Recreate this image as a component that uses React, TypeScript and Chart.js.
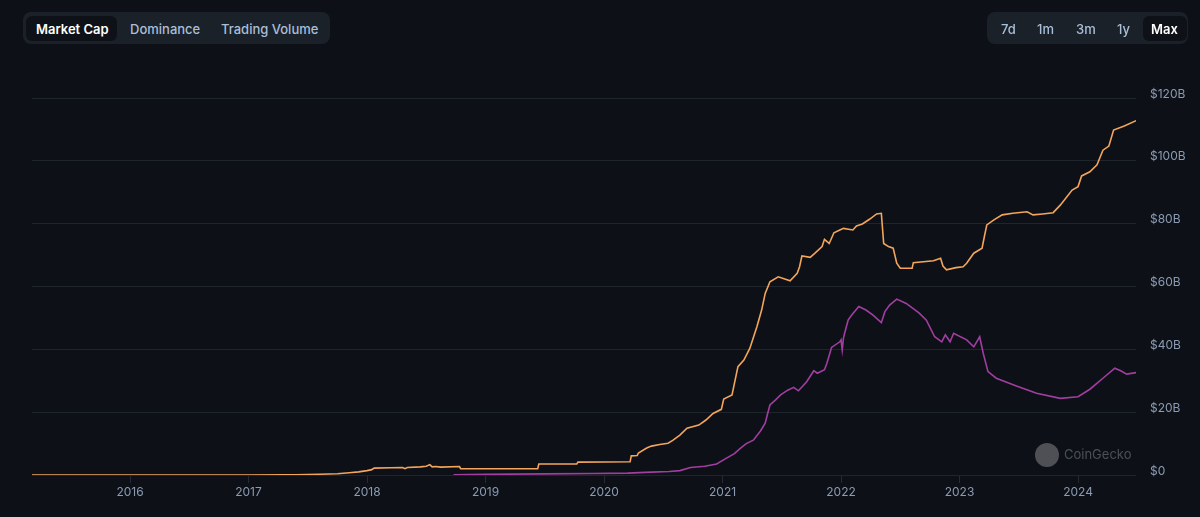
import React, { useEffect, useRef } from "react";
import { Chart, registerables } from "chart.js";

Chart.register(...registerables);

// Orange series (market cap, $B)
const orangeYears = [
  2015.17, 2016.0, 2017.0, 2017.3, 2017.4, 2017.6, 2017.75, 2017.85, 2017.93, 2018.0,
  2018.04, 2018.06, 2018.2, 2018.3, 2018.32, 2018.34, 2018.45, 2018.5, 2018.53, 2018.55,
  2018.58, 2018.62, 2018.78, 2018.79, 2019.44, 2019.45, 2019.77, 2019.78, 2020.22, 2020.23,
  2020.28, 2020.29, 2020.36, 2020.4, 2020.47, 2020.54, 2020.58, 2020.64, 2020.7, 2020.8,
  2020.86, 2020.92, 2020.99, 2021.01, 2021.08, 2021.13, 2021.18, 2021.23, 2021.29, 2021.33,
  2021.36, 2021.4, 2021.47, 2021.57, 2021.63, 2021.65, 2021.67, 2021.74, 2021.78, 2021.84,
  2021.86, 2021.9, 2021.94, 2021.99, 2022.02, 2022.1, 2022.13, 2022.18, 2022.24, 2022.3,
  2022.34, 2022.36, 2022.4, 2022.44, 2022.47, 2022.5, 2022.6, 2022.61, 2022.78, 2022.84,
  2022.86, 2022.89, 2022.97, 2023.03, 2023.06, 2023.12, 2023.19, 2023.21, 2023.23, 2023.29,
  2023.36, 2023.45, 2023.57, 2023.62, 2023.7, 2023.79, 2023.85, 2023.95, 2024.0, 2024.03,
  2024.1, 2024.16, 2024.21, 2024.26, 2024.3, 2024.39, 2024.49,
];
const orangeValues = [
  0.0, 0.0, 0.01, 0.05, 0.1, 0.25, 0.4, 0.7, 1.0, 1.4,
  1.7, 2.2, 2.3, 2.4, 2.0, 2.4, 2.6, 2.8, 3.3, 2.6,
  2.7, 2.5, 2.7, 2.0, 2.0, 3.5, 3.5, 4.1, 4.2, 6.1,
  6.2, 7.0, 8.6, 9.2, 9.7, 10.1, 11.0, 12.7, 14.9, 15.9,
  17.5, 19.6, 20.9, 24.2, 25.5, 34.5, 36.6, 40.3, 47.2, 52.5,
  57.8, 61.5, 63.1, 61.8, 64.2, 66.3, 69.7, 69.3, 70.6, 72.7,
  75.0, 73.7, 77.1, 78.0, 78.5, 78.0, 79.3, 79.9, 81.4, 83.1,
  83.3, 73.7, 72.7, 72.2, 67.4, 65.8, 65.8, 67.6, 68.2, 69.0,
  66.5, 65.3, 66.0, 66.3, 67.4, 70.6, 72.2, 76.0, 79.6, 81.2,
  82.8, 83.3, 83.8, 82.8, 83.1, 83.5, 85.9, 90.7, 91.8, 95.2,
  96.5, 98.7, 103.4, 104.7, 109.8, 111.1, 112.8,
];

// Purple series (market cap, $B)
const purpleYears = [
  2018.73, 2019.0, 2019.5, 2019.9, 2020.2, 2020.4, 2020.55, 2020.64, 2020.73, 2020.85,
  2020.95, 2021.03, 2021.1, 2021.15, 2021.2, 2021.26, 2021.32, 2021.36, 2021.38, 2021.4,
  2021.45, 2021.49, 2021.55, 2021.6, 2021.64, 2021.67, 2021.71, 2021.77, 2021.8, 2021.86,
  2021.88, 2021.92, 2021.99, 2022.0, 2022.01, 2022.02, 2022.03, 2022.06, 2022.09, 2022.15,
  2022.21, 2022.27, 2022.34, 2022.37, 2022.41, 2022.47, 2022.55, 2022.66, 2022.72, 2022.79,
  2022.85, 2022.88, 2022.92, 2022.95, 2023.06, 2023.12, 2023.17, 2023.2, 2023.24, 2023.31,
  2023.48, 2023.65, 2023.85, 2024.0, 2024.1, 2024.21, 2024.31, 2024.36, 2024.41, 2024.49,
];
const purpleValues = [
  0.05, 0.2, 0.35, 0.5, 0.6, 0.9, 1.1, 1.4, 2.4, 2.8,
  3.5, 5.3, 6.8, 8.5, 10.0, 11.1, 14.0, 16.5, 19.5, 22.3,
  24.0, 25.5, 27.0, 27.9, 26.8, 28.0, 29.7, 33.2, 32.4, 33.5,
  35.5, 40.6, 42.4, 43.0, 39.8, 43.5, 45.1, 49.3, 50.9, 53.6,
  52.5, 50.9, 48.5, 52.0, 54.1, 56.0, 54.6, 51.5, 49.3, 44.0,
  42.4, 44.6, 42.4, 45.1, 43.0, 40.8, 44.0, 38.7, 32.9, 30.8,
  28.3, 26.0, 24.4, 24.9, 27.3, 30.8, 34.0, 33.2, 32.1, 32.6,
];

const yearTicks = [2016, 2017, 2018, 2019, 2020, 2021, 2022, 2023, 2024];
const valueTicks = [0, 20, 40, 60, 80, 100, 120];
const xMin = 2015.173;
const xMax = 2024.489;

const leftTabs = ["Market Cap", "Dominance", "Trading Volume"];
const rightTabs = ["7d", "1m", "3m", "1y", "Max"];

const FONT = "Inter, 'Noto Sans', sans-serif";

function toPoints(xs: number[], ys: number[]) {
  return xs.map((x, i) => ({ x, y: ys[i] }));
}

function ChartCanvas() {
  const ref = useRef<HTMLCanvasElement | null>(null);
  useEffect(() => {
    if (!ref.current) return;
    const chart = new Chart(ref.current, {
      type: "line",
      data: {
        datasets: [
          {
            data: toPoints(orangeYears, orangeValues),
            borderColor: "#f3a55b",
            borderWidth: 1.6,
            pointRadius: 0,
            tension: 0,
            fill: false,
          },
          {
            data: toPoints(purpleYears, purpleValues),
            borderColor: "#a23da2",
            borderWidth: 1.6,
            pointRadius: 0,
            tension: 0,
            fill: false,
          },
        ],
      },
      options: {
        animation: false,
        responsive: true,
        maintainAspectRatio: false,
        layout: { padding: { left: 32, top: 98, right: 0, bottom: 0 } },
        plugins: { legend: { display: false }, tooltip: { enabled: false } },
        scales: {
          x: {
            type: "linear",
            min: xMin,
            max: xMax,
            afterBuildTicks: (scale: any) => {
              scale.ticks = yearTicks.map((v) => ({ value: v }));
            },
            afterFit: (scale: any) => {
              scale.height = 42;
            },
            border: { display: false },
            grid: {
              drawOnChartArea: false,
              drawTicks: true,
              tickLength: 8,
              color: "#262c35",
            },
            ticks: {
              autoSkip: false,
              maxRotation: 0,
              padding: 2,
              color: "#8b9bb2",
              font: { family: FONT, size: 12 },
              callback: (v: any) => String(v),
            },
          },
          y: {
            position: "right",
            min: 0,
            max: 120,
            afterBuildTicks: (scale: any) => {
              scale.ticks = valueTicks.map((v) => ({ value: v }));
            },
            afterFit: (scale: any) => {
              scale.width = 64;
            },
            border: { display: false },
            grid: { drawTicks: false, color: "#1f252d", lineWidth: 1 },
            ticks: {
              padding: 14,
              labelOffset: -4,
              color: "#8b9bb2",
              font: { family: FONT, size: 12 },
              callback: (v: any) => (v === 0 ? "$0" : "$" + v + "B"),
            },
          },
        },
      },
    });
    return () => chart.destroy();
  }, []);
  return (
    <canvas
      ref={ref}
      style={{ position: "absolute", left: 0, top: 0, width: 1200, height: 517 }}
    />
  );
}

export default function App() {
  useEffect(() => {
    document.body.style.margin = "0";
    document.body.style.background = "#0d1117";
  }, []);

  const leftPos = [36, 130, 221];
  const rightPos = [1001, 1037, 1076, 1117, 1151];

  return (
    <div
      style={{
        position: "fixed",
        left: 0,
        top: 0,
        width: 1200,
        height: 517,
        background: "#0d1117",
        fontFamily: FONT,
        overflow: "hidden",
      }}
    >
      <div style={{ position: "absolute", left: 0, top: 0, width: 1200, height: 517 }}>
        <ChartCanvas />
      </div>

      {/* Left tab group */}
      <div
        style={{
          position: "absolute",
          left: 23,
          top: 12,
          width: 307,
          height: 32,
          background: "#1b2129",
          borderRadius: 8,
        }}
      />
      <div
        style={{
          position: "absolute",
          left: 26,
          top: 16,
          width: 91,
          height: 25,
          background: "#0e1218",
          borderRadius: 6,
        }}
      />
      {leftTabs.map((t, i) => (
        <div
          key={t}
          style={{
            position: "absolute",
            left: leftPos[i],
            top: 19.5,
            height: 18,
            lineHeight: "18px",
            fontSize: 13,
            fontWeight: i === 0 ? 600 : 500,
            color: i === 0 ? "#ffffff" : "#a9bed8",
            whiteSpace: "nowrap",
          }}
        >
          {t}
        </div>
      ))}

      {/* Right tab group */}
      <div
        style={{
          position: "absolute",
          left: 987,
          top: 12,
          width: 201,
          height: 32,
          background: "#1b2129",
          borderRadius: 8,
        }}
      />
      <div
        style={{
          position: "absolute",
          left: 1143,
          top: 16,
          width: 44,
          height: 25,
          background: "#0e1218",
          borderRadius: 6,
        }}
      />
      {rightTabs.map((t, i) => (
        <div
          key={t}
          style={{
            position: "absolute",
            left: rightPos[i],
            top: 19.5,
            height: 18,
            lineHeight: "18px",
            fontSize: 13,
            fontWeight: i === rightTabs.length - 1 ? 600 : 500,
            color: i === rightTabs.length - 1 ? "#ffffff" : "#a9bed8",
            whiteSpace: "nowrap",
          }}
        >
          {t}
        </div>
      ))}

      {/* Watermark */}
      <div
        style={{
          position: "absolute",
          left: 1035,
          top: 443,
          width: 24,
          height: 24,
          borderRadius: 12,
          background: "#55585d",
          opacity: 0.9,
        }}
      />
      <div
        style={{
          position: "absolute",
          left: 1064,
          top: 446,
          fontSize: 13,
          lineHeight: "16px",
          color: "#4b5057",
          whiteSpace: "nowrap",
        }}
      >
        CoinGecko
      </div>
    </div>
  );
}
